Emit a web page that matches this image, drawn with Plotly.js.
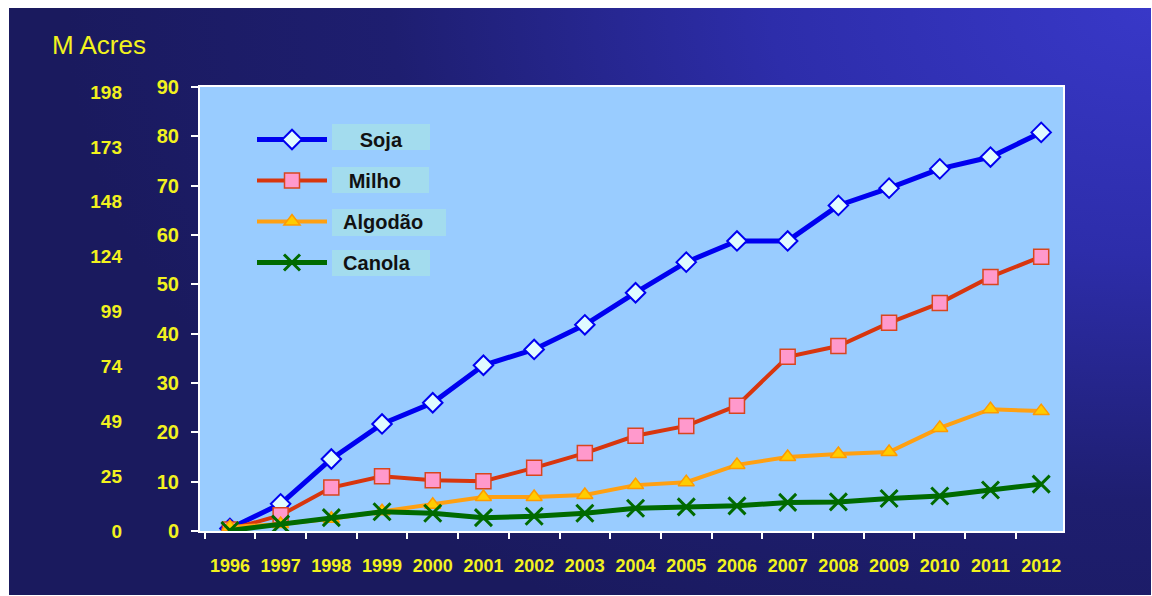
<!DOCTYPE html>
<html>
<head>
<meta charset="utf-8">
<script src="https://cdn.plot.ly/plotly-3.0.1.min.js"></script>
<style>
  html, body { margin: 0; padding: 0; background: #ffffff; }
  #wrap { position: relative; width: 1152px; height: 596px; overflow: hidden; background: #ffffff; }
  #bg { position: absolute; left: 9px; top: 8px; right: 1px; bottom: 1px;
        background: radial-gradient(ellipse 95% 120% at 100% 0%, #3838c8 0%, #2d2daa 35%, #1e1e70 70%, #1a1a5e 100%); }
  #chart { position: absolute; left: 0; top: 0; width: 1152px; height: 596px; }
</style>
</head>
<body>
<div id="wrap"><div id="bg"></div><div id="chart"></div></div>
<script>
// Data (million hectares)
const years = ['1996','1997','1998','1999','2000','2001','2002','2003','2004','2005','2006','2007','2008','2009','2010','2011','2012'];
const soja    = [0.5, 5.5, 14.6, 21.7, 26.0, 33.6, 36.8, 41.8, 48.3, 54.5, 58.8, 58.8, 66.0, 69.5, 73.4, 75.8, 80.8];
const milho   = [0.3, 3.2, 8.8, 11.1, 10.3, 10.1, 12.8, 15.8, 19.3, 21.3, 25.4, 35.3, 37.5, 42.2, 46.2, 51.5, 55.6];
const algodao = [0.8, 1.4, 2.5, 4.0, 5.3, 6.9, 6.9, 7.3, 9.3, 9.9, 13.4, 15.0, 15.6, 16.0, 20.9, 24.7, 24.3];
const canola  = [0.1, 1.4, 2.7, 3.9, 3.6, 2.7, 3.0, 3.6, 4.6, 4.9, 5.1, 5.8, 5.9, 6.6, 7.1, 8.3, 9.5];
const seriesNames = ['Soja', 'Milho', 'Algodão', 'Canola'];
// Secondary (million acres) scale labels
const acresTickVals = [0, 24.75, 49.5, 74.25, 99, 123.75, 148.5, 173.25, 198];
const acresTickText = ['0', '25', '49', '74', '99', '124', '148', '173', '198'];
const hectareTicks = [0, 10, 20, 30, 40, 50, 60, 70, 80, 90];

const FONT = 'Arial, "Liberation Sans", sans-serif';
const YEL = '#f2f21e';
const NB = '\u00a0';
const legendPad = [5, 3, 2, 2];   // visual centring of names inside their label boxes
const nm = i => NB.repeat(legendPad[i]) + seriesNames[i];

const traces = [
  { x: years, y: soja, name: nm(0), legendgroup: 'a', type: 'scatter', mode: 'lines+markers',
    line: { color: '#0000f0', width: 5 },
    marker: { symbol: 'diamond', size: 15, color: '#e0fbff', line: { color: '#0000f0', width: 2 } } },
  { x: years, y: milho, name: nm(1), legendgroup: 'b', type: 'scatter', mode: 'lines+markers',
    line: { color: '#d8360e', width: 4 },
    marker: { symbol: 'square', size: 15, color: '#ff99cc', line: { color: '#d8461e', width: 1.5 } } },
  { x: years, y: algodao, name: nm(2), legendgroup: 'c', type: 'scatter', mode: 'lines+markers',
    line: { color: '#ffa012', width: 4 },
    marker: { symbol: 'triangle-up', size: 14, color: '#ffcc00', line: { color: '#ff9a00', width: 1.5 } } },
  { x: years, y: canola, name: nm(3), legendgroup: 'd', type: 'scatter', mode: 'lines+markers',
    line: { color: '#006a00', width: 5 },
    marker: { symbol: 'x-thin', size: 17, color: '#006a00', line: { color: '#006a00', width: 3 } } },
  // invisible trace carrying the acres axis
  { x: [years[0]], y: [0], yaxis: 'y2', type: 'scatter', mode: 'markers', showlegend: false,
    hoverinfo: 'skip', marker: { opacity: 0 } }
];

const L = 60, R = 89, T = 87, B = 65;
const plotW = 1152 - L - R;
const domStart = (200 - L) / plotW;
const px = v => (v - L) / plotW;          // pixel x -> paper x
const py = v => (531 - v) / 444;          // pixel y -> paper y

const boxColor = '#a3dcee';
const layout = {
  width: 1152, height: 596,
  margin: { l: L, r: R, t: T, b: B, pad: 0 },
  paper_bgcolor: 'rgba(0,0,0,0)',
  plot_bgcolor: '#99ccff',
  font: { family: FONT, color: YEL },
  showlegend: true,
  legend: {
    x: px(252), y: py(120), xanchor: 'left', yanchor: 'top',
    bgcolor: 'rgba(0,0,0,0)', borderwidth: 0,
    font: { family: FONT, size: 20, color: '#111111', weight: 'bold' },
    itemwidth: 70, tracegroupgap: 12, traceorder: 'grouped'
  },
  xaxis: {
    type: 'category', domain: [domStart, 1],
    range: [-0.59, 16.43],
    showgrid: false, zeroline: false,
    showline: true, linecolor: '#ffffff', linewidth: 2, mirror: true,
    ticks: 'outside', tickson: 'boundaries', ticklen: 6, tickwidth: 2, tickcolor: '#ffffff',
    tickfont: { family: FONT, size: 18, color: YEL, weight: 'bold' },
    ticklabelstandoff: 17
  },
  yaxis: {
    range: [0, 90], tickvals: hectareTicks,
    showgrid: false, zeroline: false,
    showline: true, linecolor: '#ffffff', linewidth: 2, mirror: true,
    ticks: 'outside', ticklen: 7, tickwidth: 2, tickcolor: '#ffffff',
    tickfont: { family: FONT, size: 20, color: YEL, weight: 'bold' },
    ticklabelstandoff: 8
  },
  yaxis2: {
    overlaying: 'y', anchor: 'free', side: 'left', position: px(122),
    range: [0, 200.3], tickmode: 'array', tickvals: acresTickVals, ticktext: acresTickText,
    showgrid: false, zeroline: false, showline: false, ticks: '',
    tickfont: { family: FONT, size: 19, color: YEL, weight: 'bold' }
  },
  annotations: [
    { text: 'M Acres', xref: 'paper', yref: 'paper', x: px(50), y: py(45),
      xanchor: 'left', yanchor: 'middle', showarrow: false,
      font: { family: FONT, size: 26, color: YEL } }
  ],
  shapes: [
    [332, 430, 124, 150], [332, 429, 167, 193], [332, 446, 209, 236], [332, 430, 250, 276]
  ].map(b => ({
    type: 'rect', xref: 'paper', yref: 'paper', layer: 'above',
    x0: px(b[0]), x1: px(b[1]), y0: py(b[3]), y1: py(b[2]),
    fillcolor: boxColor, line: { width: 0 }
  }))
};

Plotly.newPlot('chart', traces, layout, { displayModeBar: false, staticPlot: true });
</script>
</body>
</html>
